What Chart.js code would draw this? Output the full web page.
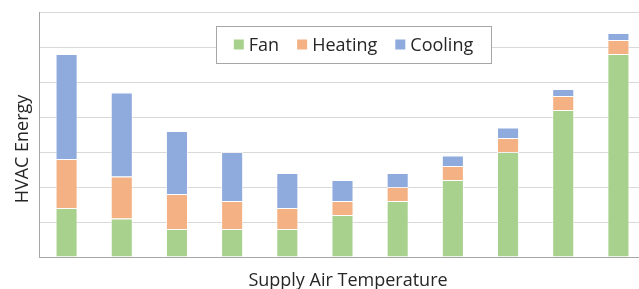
<!DOCTYPE html>
<html>
<head>
<meta charset="utf-8">
<script src="https://cdn.jsdelivr.net/npm/chart.js@4.4.1/dist/chart.umd.min.js"></script>
<style>
  html, body { margin:0; padding:0; background:#fff; overflow:hidden; }
  #wrap { width:639px; height:289px; overflow:hidden; position:relative; }
  #wrap canvas { position:absolute; left:0; top:0; }
</style>
</head>
<body>
<div id="wrap"><canvas id="chart" width="646" height="289"></canvas></div>
<script>
// HVAC energy by supply air temperature (stacked)
const categories = ['1','2','3','4','5','6','7','8','9','10','11'];
const fan     = [1.4, 1.1, 0.8, 0.8, 0.8, 1.2, 1.6, 2.2, 3.0, 4.2, 5.8];
const heating = [1.4, 1.2, 1.0, 0.8, 0.6, 0.4, 0.4, 0.4, 0.4, 0.4, 0.4];
const cooling = [3.0, 2.4, 1.8, 1.4, 1.0, 0.6, 0.4, 0.3, 0.3, 0.2, 0.2];
const xTitle = 'Supply Air Temperature';
const yTitle = 'HVAC Energy';

const FONT = "'Open Sans', 'Noto Sans', sans-serif";
const TEXT = '#262626';

// axis titles, placed where the original has them
const axisTitles = {
  id: 'axisTitles',
  afterDraw(chart){
    const ctx = chart.ctx;
    ctx.save();
    ctx.font = '18px ' + FONT;
    ctx.fillStyle = TEXT;
    ctx.textAlign = 'center';
    ctx.textBaseline = 'alphabetic';
    ctx.fillText(xTitle, 348, 286);
    ctx.translate(28, 149);
    ctx.rotate(-Math.PI/2);
    ctx.fillText(yTitle, 0, 0);
    ctx.restore();
  }
};

// boxed legend drawn over the plot, like the original
const boxLegend = {
  id: 'boxLegend',
  afterDatasetsDraw(chart){
    const ctx = chart.ctx;
    const sets = chart.data.datasets;
    ctx.save();
    ctx.font = '18px ' + FONT;
    const sq = 10, gap = 5, itemGap = 18, padX = 18;
    const widths = sets.map(d => sq + gap + ctx.measureText(d.label).width);
    const content = widths.reduce((a,b)=>a+b,0) + itemGap*(sets.length-1);
    const boxW = content + padX*2, boxH = 37;
    const cx = 353.5, top = 26;
    const left = cx - boxW/2;
    ctx.fillStyle = '#fff';
    ctx.fillRect(left, top, boxW, boxH);
    ctx.strokeStyle = '#a6a6a6';
    ctx.lineWidth = 1;
    ctx.strokeRect(Math.round(left)+0.5, top+0.5, Math.round(boxW), boxH);
    let x = left + padX;
    const cy = top + boxH/2;
    sets.forEach((d,i)=>{
      ctx.fillStyle = d.backgroundColor;
      ctx.fillRect(x, cy - sq/2, sq, sq);
      ctx.fillStyle = TEXT;
      ctx.textBaseline = 'middle';
      ctx.fillText(d.label, x + sq + gap, cy + 1);
      x += widths[i] + itemGap;
    });
    ctx.restore();
  }
};

new Chart(document.getElementById('chart'), {
  type: 'bar',
  data: {
    labels: categories,
    datasets: [
      { label:'Fan', data: fan, backgroundColor:'#a9d18e' },
      { label:'Heating', data: heating, backgroundColor:'#f4b183' },
      { label:'Cooling', data: cooling, backgroundColor:'#8faadc' }
    ]
  },
  options: {
    responsive:false, animation:false,
    layout:{ padding:{ left:0, right:0, top:12, bottom:0 } },
    datasets:{ bar:{ categoryPercentage:1, barPercentage:0.4, borderWidth:1, borderColor:'rgba(255,255,255,0.6)' } },
    plugins:{ legend:{ display:false }, tooltip:{ enabled:false } },
    scales:{
      x:{
        stacked:true,
        grid:{ display:false, drawTicks:false },
        border:{ color:'#a6a6a6', width:1 },
        ticks:{ display:false },
        afterFit(s){ s.height = 32; }
      },
      y:{
        stacked:true, min:0, max:7,
        grid:{ color:'#d9d9d9', drawTicks:false },
        border:{ color:'#a6a6a6', width:1 },
        ticks:{ display:false, stepSize:1 },
        afterFit(s){ s.width = 39; }
      }
    }
  },
  plugins:[boxLegend, axisTitles]
});
</script>
</body>
</html>
